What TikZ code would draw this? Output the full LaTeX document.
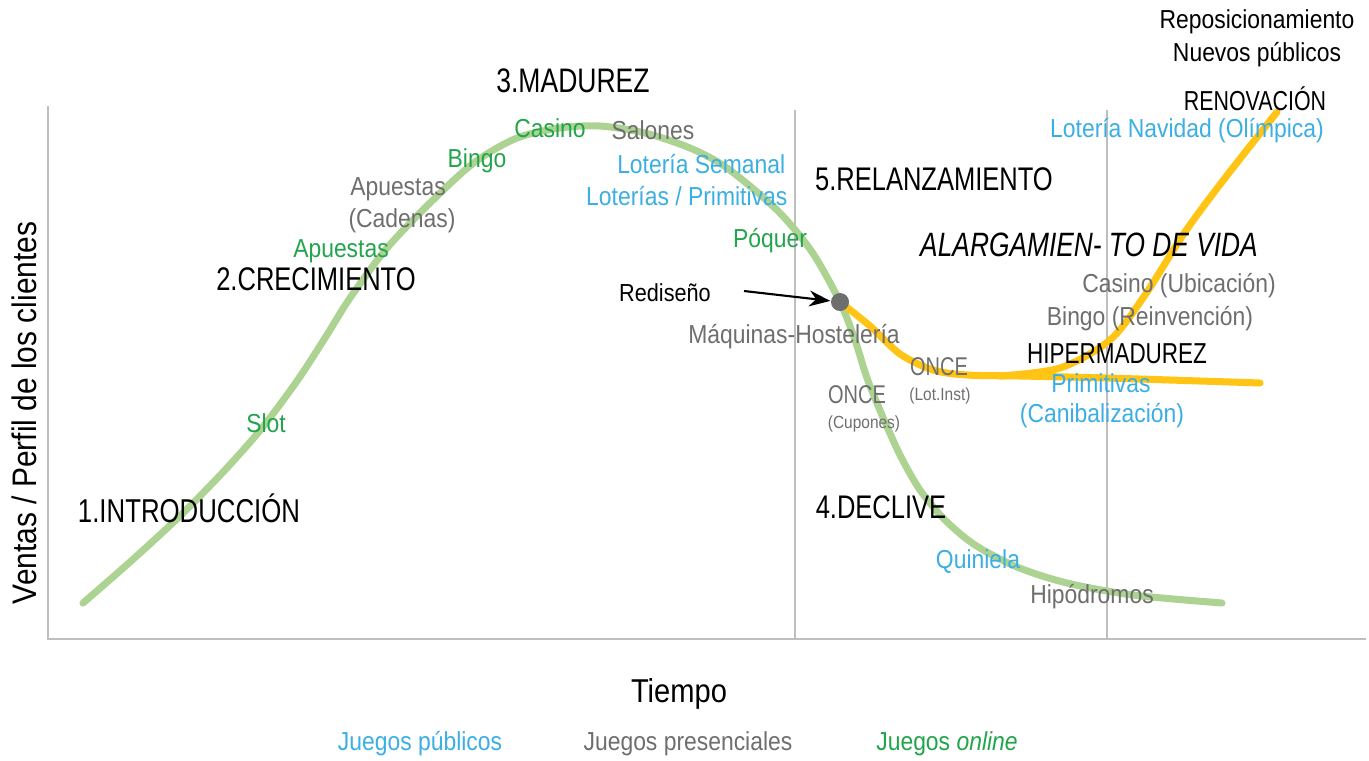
\documentclass[tikz,border=0pt]{standalone}
\usepackage{fontspec}
\setmainfont{Liberation Sans}[FakeStretch=0.88]
\newfontfamily\capsf{Liberation Sans}[FakeStretch=0.78]
\usetikzlibrary{arrows.meta}
\definecolor{gtxt}{RGB}{34,164,76}
\definecolor{btxt}{RGB}{59,174,227}
\definecolor{ytxt}{RGB}{110,110,110}
\definecolor{gline}{RGB}{172,211,146}
\definecolor{yline}{RGB}{255,196,20}
\definecolor{axgray}{RGB}{190,190,190}
\definecolor{dotgray}{RGB}{110,110,110}
\begin{document}
\begin{tikzpicture}[x=0.01cm,y=-0.01cm,
  lab/.style={inner sep=0,anchor=base,font=\fontsize{7.4}{8.5}\selectfont},
  grn/.style={lab,text=gtxt},
  blu/.style={lab,text=btxt},
  gry/.style={lab,text=ytxt},
  small/.style={inner sep=0,anchor=base,text=ytxt,font=\fontsize{5}{6}\selectfont},
  stage/.style={inner sep=0,anchor=base,font=\capsf\fontsize{#1}{11}\selectfont},
  axisline/.style={draw=axgray,line width=0.6pt},
  gcurve/.style={draw=gline,line width=2pt,line cap=round,line join=round},
  ycurve/.style={draw=yline,line width=2pt,line cap=round,line join=round}]
\useasboundingbox (0,0) rectangle (1369,760);
% axes and dividers
\draw[axisline] (48,106) -- (48,639) -- (1366,639);
\draw[axisline] (795,110) -- (795,639);
\draw[axisline] (1107,110) -- (1107,639);
% curves
\draw[gcurve] plot[smooth,tension=0.5] coordinates {(83,603) (130,562) (180,516) (225,470) (262,428) (297,381) (325,338) (350,298) (387,248) (433,200) (475,162) (517,138) (560,128) (600,126) (645,133) (690,148) (727,168) (777,210) (812,252) (840,302) (855,340) (867,378) (882,415) (900,455) (920,490) (945,520) (975,545) (1017,567) (1067,583) (1133,595) (1222,603)};
\draw[ycurve] plot[smooth] coordinates {(840,302) (870,326) (900,354) (933,370) (967,375) (1020,376) (1107,378) (1260,383)};
\draw[ycurve] plot[smooth] coordinates {(1000,376) (1060,368) (1110,340) (1145,295) (1185,232) (1225,178) (1277,112)};
\node[circle,fill=dotgray,inner sep=0,minimum size=0.18cm] (dot) at (840,302) {};
% stage labels
\node[stage=9.67] (madurez) at (573,92) {3.MADUREZ};
\node[stage=9.3] (crec) at (316,290) {2.CRECIMIENTO};
\node[stage=9.4] (intro) at (189,522) {1.INTRODUCCIÓN};
\node[stage=9.3] (declive) at (881,518) {4.DECLIVE};
\node[stage=9.3] (relanz) at (934,190) {5.RELANZAMIENTO};
\node[stage=9.6,font=\capsf\itshape\fontsize{9.6}{11}\selectfont] (alarg) at (1089,256) {ALARGAMIEN- TO DE VIDA};
\node[stage=8.2] (hiper) at (1117,363) {HIPERMADUREZ};
\node[stage=7.8] (renov) at (1255,110) {RENOVACIÓN};
\node[lab] (repos) at (1257,28) {Reposicionamiento};
\node[lab] (nuevos) at (1257,61) {Nuevos públicos};
% green labels
\node[grn] (casinoG) at (550,137) {Casino};
\node[grn] (bingoG) at (477,167) {Bingo};
\node[grn] (apuestasG) at (341,257) {Apuestas};
\node[grn] (slot) at (266,432) {Slot};
\node[grn] (poquer) at (770,247) {Póquer};
% gray labels
\node[gry] (salones) at (653,139) {Salones};
\node[gry] (apuestasY) at (398,195) {Apuestas};
\node[gry] (cadenas) at (402,227) {(Cadenas)};
\node[gry] (maquinas) at (794,343) {Máquinas-Hostelería};
\node[gry,font=\capsf\fontsize{7.3}{8.5}\selectfont] (once1) at (857,403) {ONCE};
\node[small] (cupones) at (864,428) {(Cupones)};
\node[gry,font=\capsf\fontsize{7.3}{8.5}\selectfont] (once2) at (939,375) {ONCE};
\node[small] (lotinst) at (940,400) {(Lot.Inst)};
\node[gry] (casinoU) at (1179,292) {Casino (Ubicación)};
\node[gry] (bingoR) at (1150,325) {Bingo (Reinvención)};
\node[gry] (hipo) at (1092,603) {Hipódromos};
% blue labels
\node[blu,anchor=base east] (semanal) at (786,173) {Lotería Semanal};
\node[blu,anchor=base east] (loterias) at (788,205) {Loterías / Primitivas};
\node[blu] (quiniela) at (978,568) {Quiniela};
\node[blu] (primit) at (1101,392) {Primitivas};
\node[blu] (canib) at (1102,422) {(Canibalización)};
\node[blu] (navidad) at (1187,137) {Lotería Navidad (Olímpica)};
% redesign arrow
\node[lab,font=\fontsize{7}{8}\selectfont] (redis) at (665,301) {Rediseño};
\coordinate (arrS) at (744,291);
\draw[-{Stealth[length=6pt,width=4.5pt]},line width=0.6pt] (arrS) -- (dot);
% axis titles
\node[lab,font=\fontsize{9.4}{11}\selectfont] (tiempo) at (679,702) {Tiempo};
\node[lab,rotate=90,font=\fontsize{9.67}{11}\selectfont] (ventas) at (36,413) {Ventas / Perfil de los clientes};
% legend
\node[blu] (legB) at (420,750) {Juegos públicos};
\node[gry] (legY) at (688,750) {Juegos presenciales};
\node[grn] (legG) at (947,750) {Juegos \textit{online}};
\end{tikzpicture}
\end{document}
